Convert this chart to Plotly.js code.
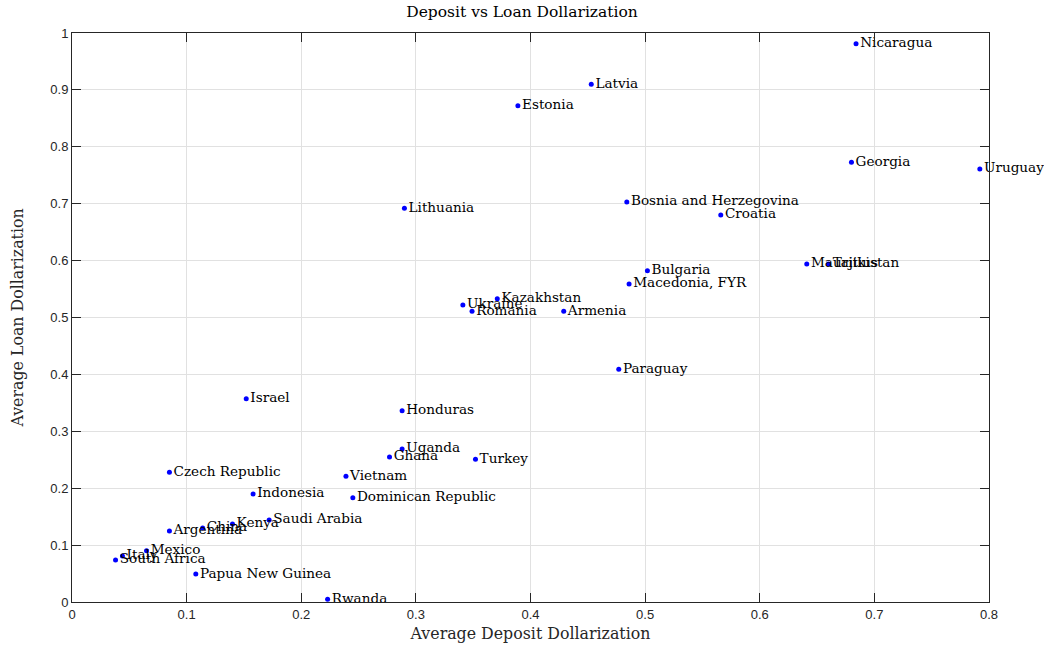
<!DOCTYPE html>
<html>
<head>
<meta charset="utf-8">
<script src="https://cdn.plot.ly/plotly-3.0.1.min.js"></script>
<style>html,body{margin:0;padding:0;background:#fff;}#chart{width:1044px;height:658px;}</style>
</head>
<body>
<div id="chart"></div>
<script>
const countries = ["Nicaragua","Latvia","Estonia","Georgia","Uruguay","Bosnia and Herzegovina","Croatia","Lithuania","Mauritius","Tajikistan","Bulgaria","Macedonia, FYR","Kazakhstan","Ukraine","Romania","Armenia","Paraguay","Israel","Honduras","Uganda","Ghana","Turkey","Czech Republic","Vietnam","Indonesia","Dominican Republic","Saudi Arabia","Kenya","China","Argentina","Mexico","Italy","South Africa","Papua New Guinea","Rwanda"];
const depositDollarization = [0.684,0.453,0.389,0.680,0.792,0.484,0.566,0.290,0.641,0.660,0.502,0.486,0.371,0.341,0.349,0.429,0.477,0.152,0.288,0.288,0.277,0.352,0.085,0.239,0.158,0.245,0.172,0.140,0.114,0.085,0.065,0.044,0.038,0.108,0.223];
const loanDollarization = [0.981,0.910,0.872,0.773,0.761,0.703,0.680,0.692,0.594,0.594,0.582,0.559,0.533,0.522,0.511,0.511,0.409,0.357,0.336,0.269,0.255,0.251,0.228,0.221,0.190,0.183,0.144,0.137,0.130,0.125,0.090,0.081,0.074,0.049,0.005];
const xTicks = [0,0.1,0.2,0.3,0.4,0.5,0.6,0.7,0.8];
const xTickLabels = ["0","0.1","0.2","0.3","0.4","0.5","0.6","0.7","0.8"];
const yTicks = [0,0.1,0.2,0.3,0.4,0.5,0.6,0.7,0.8,0.9,1];
const yTickLabels = ["0","0.1","0.2","0.3","0.4","0.5","0.6","0.7","0.8","0.9","1"];

const serif = "DejaVu Serif, Liberation Serif, serif";
const sans = "Liberation Sans, Arial, sans-serif";

const trace = {
  x: depositDollarization,
  y: loanDollarization,
  text: countries,
  mode: "markers+text",
  type: "scatter",
  textposition: "middle right",
  cliponaxis: false,
  textfont: {family: serif, size: 13.6, color: "#000"},
  marker: {color: "#0000ff", size: 5},
  hoverinfo: "x+y+text"
};

const axisCommon = {
  showline: true, mirror: "ticks", linecolor: "#262626", linewidth: 1,
  ticks: "inside", ticklen: 9, tickcolor: "#262626",
  showgrid: true, gridcolor: "#e1e1e1", gridwidth: 1,
  zeroline: false,
  tickfont: {family: sans, size: 13, color: "#262626"}
};

const layout = {
  width: 1044, height: 658,
  margin: {l: 72, r: 55, t: 33, b: 56},
  paper_bgcolor: "#fff", plot_bgcolor: "#fff",
  showlegend: false,
  title: {text: "Deposit vs Loan Dollarization", font: {family: serif, size: 15.5, color: "#000"}, x: 0.5, xanchor: "center", y: 0.99, yanchor: "top"},
  xaxis: Object.assign({}, axisCommon, {
    range: [0, 0.8], tickvals: xTicks, ticktext: xTickLabels,
    title: {text: "Average Deposit Dollarization", font: {family: serif, size: 15.8, color: "#262626"}, standoff: 7}
  }),
  yaxis: Object.assign({}, axisCommon, {
    range: [0, 1], tickvals: yTicks, ticktext: yTickLabels,
    title: {text: "Average Loan Dollarization", font: {family: serif, size: 15.8, color: "#262626"}, standoff: 22}
  })
};

Plotly.newPlot("chart", [trace], layout, {displayModeBar: false, staticPlot: true});
</script>
</body>
</html>
